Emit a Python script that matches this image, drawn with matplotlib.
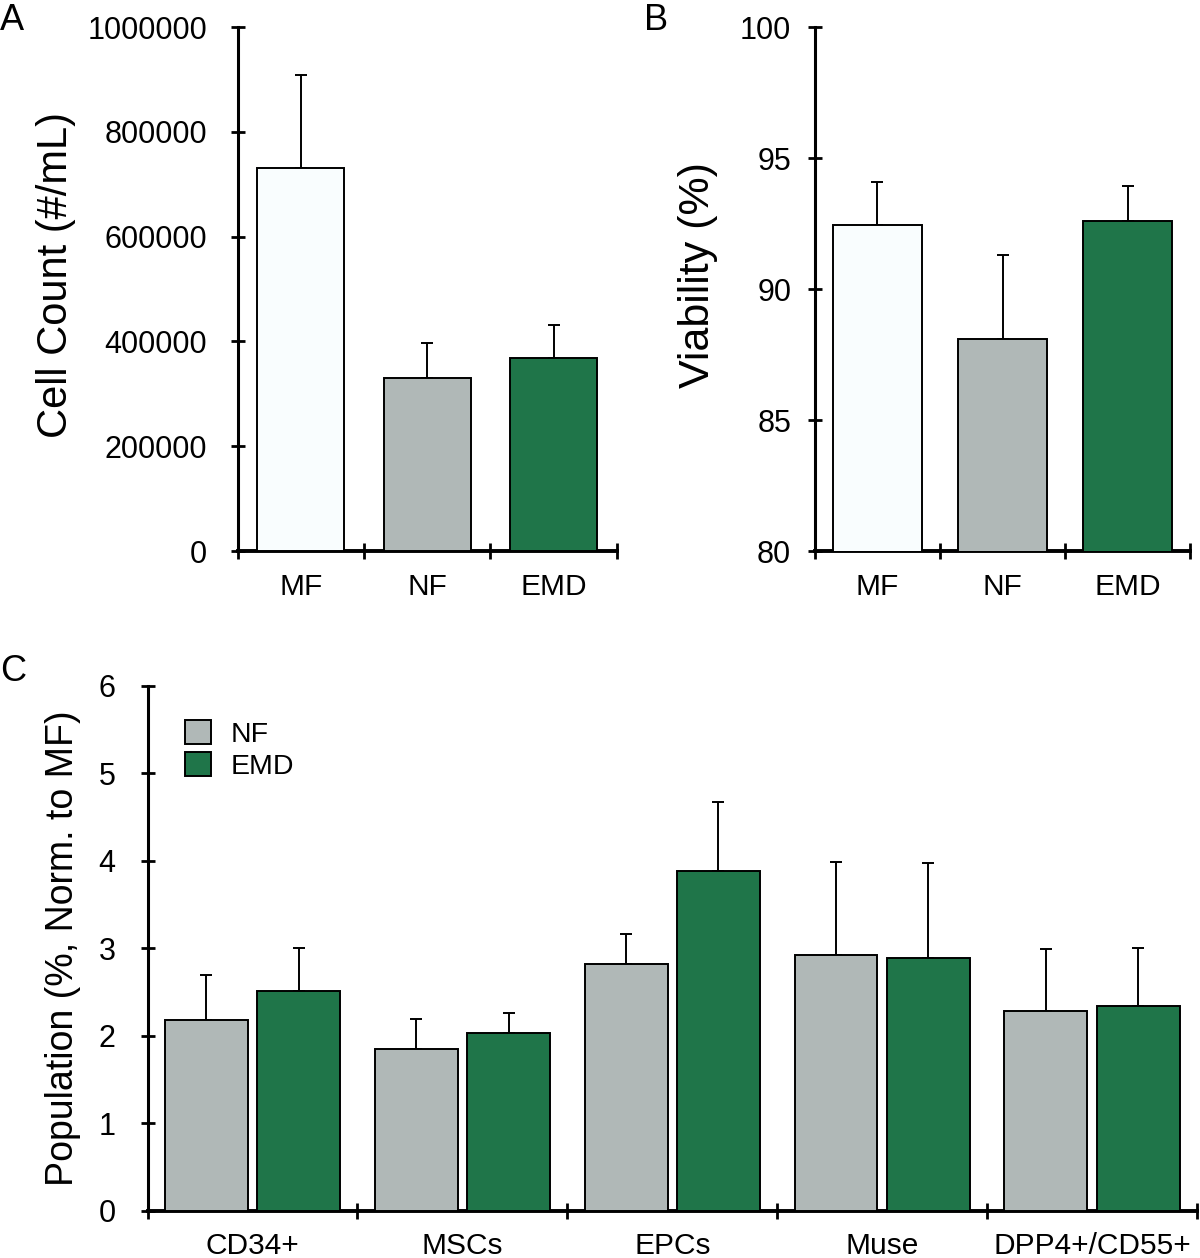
import numpy as np
import matplotlib
matplotlib.use('Agg')
import matplotlib.pyplot as plt
from matplotlib.patches import Patch

plt.rcParams['font.family'] = ['Liberation Sans', 'DejaVu Sans']

# panel A / B data
groups = ['MF', 'NF', 'EMD']
count_mean = [731000, 330000, 368000]
count_sd = [177000, 67000, 63000]
viab_mean = [92.45, 88.1, 92.6]
viab_sd = [1.65, 3.2, 1.35]

# panel C data
cells = ['CD34+', 'MSCs', 'EPCs', 'Muse', 'DPP4+/CD55+']
nf_pop = [2.18, 1.85, 2.82, 2.92, 2.29]
nf_sd = [0.52, 0.34, 0.35, 1.07, 0.70]
emd_pop = [2.51, 2.03, 3.88, 2.89, 2.34]
emd_sd = [0.49, 0.23, 0.79, 1.09, 0.66]

white = '#f9fdfe'
grey = '#b0b8b7'
green = '#1f7549'

fig = plt.figure(figsize=(12, 12.58), dpi=100)

def style(ax, n, ypad):
    for s in ['top', 'right']:
        ax.spines[s].set_visible(False)
    ax.spines['left'].set_linewidth(2.2)
    ax.spines['bottom'].set_linewidth(2.8)
    ax.set_xlim(-0.5, n - 0.5)
    ax.set_xticks(np.arange(n + 1) - 0.5)
    ax.set_xticklabels([])
    ax.set_xticks(np.arange(n), minor=True)
    ax.tick_params(axis='x', which='major', direction='inout', length=12, width=2)
    ax.tick_params(axis='x', which='minor', length=0, pad=16, labelsize=21.5)
    ax.tick_params(axis='y', direction='inout', length=10, width=2, labelsize=22, pad=ypad)

def bars(ax, x, vals, sd, colors, width):
    ax.bar(x, vals, width=width, color=colors, edgecolor='black', linewidth=1.4, zorder=3,
           yerr=[np.zeros(len(vals)), sd], capsize=4.5,
           error_kw=dict(elinewidth=1.4, capthick=1.4, ecolor='black', zorder=2))

# A
axA = fig.add_axes([0.198, 0.562, 0.316, 0.4165])
x = np.arange(3)
bars(axA, x, count_mean, count_sd, [white, grey, green], 0.69)
axA.set_ylim(0, 1000000)
yt = np.arange(0, 1000001, 200000)
axA.set_yticks(yt)
axA.set_yticklabels([str(v) for v in yt])
style(axA, 3, 17)
axA.set_xticklabels(groups, minor=True)
axA.set_ylabel('Cell Count (#/mL)', fontsize=30)
axA.yaxis.set_label_coords(-0.425, 0.527)
fig.text(0.0, 0.998, 'A', fontsize=26, va='top', ha='left')

# B
axB = fig.add_axes([0.679, 0.562, 0.313, 0.4165])
bars(axB, x, viab_mean, viab_sd, [white, grey, green], 0.71)
axB.set_ylim(80, 100)
axB.set_yticks([80, 85, 90, 95, 100])
style(axB, 3, 12)
axB.set_xticklabels(groups, minor=True)
axB.set_ylabel('Viability (%)', fontsize=31)
axB.yaxis.set_label_coords(-0.259, 0.527)
fig.text(0.537, 0.998, 'B', fontsize=26, va='top', ha='left')

# C
axC = fig.add_axes([0.123, 0.0374, 0.8745, 0.4173])
xc = np.arange(len(cells))
bars(axC, xc - 0.22, nf_pop, nf_sd, grey, 0.395)
bars(axC, xc + 0.22, emd_pop, emd_sd, green, 0.395)
axC.set_ylim(0, 6)
axC.set_yticks(range(7))
style(axC, len(cells), 18)
axC.set_xticklabels(cells, minor=True)
axC.tick_params(axis='x', which='minor', pad=15)
axC.set_ylabel('Population (%, Norm. to MF)', fontsize=27)
axC.yaxis.set_label_coords(-0.063, 0.5)
handles = [Patch(facecolor=grey, edgecolor='black', linewidth=1.4, label='NF'),
           Patch(facecolor=green, edgecolor='black', linewidth=1.4, label='EMD')]
axC.legend(handles=handles, loc='upper left', bbox_to_anchor=(0.036, 0.935), frameon=False,
           fontsize=20.5, handlelength=0.9, handleheight=0.9, handletextpad=0.7,
           labelspacing=0.15, borderpad=0, borderaxespad=0)
fig.text(0.0, 0.48, 'C', fontsize=26, va='top', ha='left')

fig.savefig('out.png', dpi=100)
